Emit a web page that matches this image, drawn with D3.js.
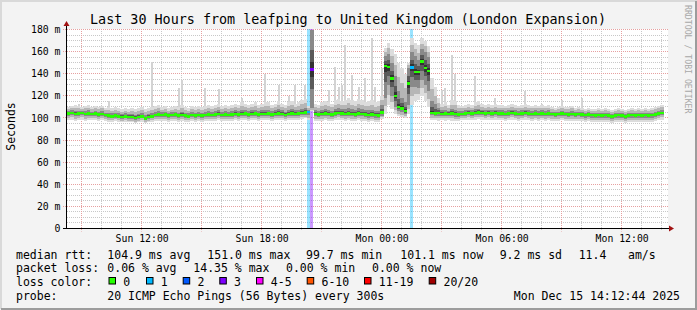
<!DOCTYPE html>
<html>
<head>
<meta charset="utf-8">
<script src="https://cdn.jsdelivr.net/npm/d3@7"></script>
<style>
body { margin: 0; background: #f3f3f3; }
svg { display: block; }
text { font-family: "DejaVu Sans Mono", monospace; fill: #000; }
</style>
</head>
<body>
<svg id="chart" width="697" height="310"></svg>
<script>
// one value per 10 minute step, starting Sun Dec 14 08:16 UTC (30 hours shown)
var median = [
  104, 104.5, 103.5, 104, 104.5, 103.5, 104, 103.5, 104, 103,
  103.5, 102.5, 102, 101.5, 102, 101.5, 101, 101.5, 101, 101,
  100, 101, 101.5, 99.7, 101, 101.5, 102.5, 103, 102.5, 103,
  102, 102.5, 103, 102, 102.5, 102, 101.5, 102.5, 102, 102.5,
  102, 102.5, 103, 102.5, 103, 103.5, 102.5, 103, 102.5, 103,
  103.5, 103, 103.5, 104, 103, 103.5, 104, 103, 103.5, 103.5,
  104, 103, 103.5, 104, 103.5, 102.5, 103.5, 104, 103.5, 104,
  104.5, 105, 105.3, 143.7, 103.5, 103, 103.5, 104, 103.5, 103,
  104, 104.5, 104, 103.5, 104, 103.5, 103, 104, 103.5, 103,
  102.5, 103, 102.5, 102, 105, 147, 146, 135.7, 120, 110,
  108.7, 106.2, 131, 145.7, 141.5, 141.4, 151, 145, 142.6, 104.5,
  104, 104.5, 103.5, 104, 103.5, 104, 103.5, 103, 103.5, 104,
  104.5, 104, 104.5, 105, 104.5, 104, 104.5, 104, 104.5, 104,
  104, 103.5, 104, 104.5, 104, 103.5, 104, 104.5, 104, 103.5,
  104, 103.5, 104, 103.5, 104, 103.5, 103, 103.5, 104, 103.5,
  103, 103.5, 103, 103.5, 103, 102.5, 103, 102.5, 102, 102.5,
  102, 102.5, 102, 101.5, 102, 102.5, 102, 101.5, 102, 102.5,
  102, 102.5, 102, 102.5, 102, 102.5, 103, 104, 104.5, null
];
var smokeLo = [
  98, 98.5, 97.5, 98, 98.5, 97.5, 98, 98, 98.5, 97.5,
  98, 97, 96.5, 96.5, 97, 96.5, 96, 96.5, 96, 96,
  95, 96, 96.5, 95, 96, 96.5, 97, 97.5, 97, 97.5,
  96.5, 97, 97.5, 96.5, 97, 96.5, 96, 97, 96.5, 97,
  96.5, 97, 97.5, 97, 97.5, 98, 97, 97.5, 97, 97.5,
  98, 97.5, 98, 98.5, 97.5, 98, 98.5, 97.5, 98, 98,
  98.5, 97.5, 98, 98.5, 98, 97, 98, 98.5, 98, 98.5,
  99, 99.5, 98, 106, 97.5, 97, 97.5, 98, 97.5, 97,
  98, 98.5, 98, 97.5, 98, 97.5, 97, 98, 97.5, 97,
  96.5, 97, 96.5, 96, 99, 104, 112, 108, 104, 102,
  101, 100, 104, 112, 115, 116, 120, 115, 110, 98,
  98, 97.5, 98, 97.5, 98, 97.5, 97, 97.5, 98, 98.5,
  98.5, 98, 98.5, 99, 98.5, 98, 98.5, 98, 98.5, 98,
  98, 97.5, 98, 98.5, 98, 97.5, 98, 98.5, 98, 97.5,
  98, 97.5, 98, 97.5, 98, 97.5, 97, 97.5, 98, 97.5,
  97, 97.5, 97, 97.5, 97, 96.5, 97, 96.5, 96, 96.5,
  96, 96.5, 96, 95.5, 96, 96.5, 96, 95.5, 96, 96.5,
  96, 96.5, 96, 96.5, 96, 96.5, 97, 98, 98.5, null
];
var smokeHi = [
  110, 111, 112, 111, 110, 111, 112, 110, 111, 110,
  111, 109, 110, 109, 110, 109, 108, 109, 108, 109,
  108, 109, 110, 108, 109, 110, 111, 112, 110, 111,
  109, 110, 111, 110, 112, 110, 109, 111, 110, 111,
  110, 111, 112, 111, 112, 113, 111, 112, 111, 112,
  113, 112, 114, 113, 112, 113, 114, 112, 113, 114,
  114, 112, 113, 115, 113, 112, 114, 115, 113, 114,
  116, 117, 111, 182, 113, 112, 114, 115, 114, 113,
  116, 117, 115, 116, 118, 116, 115, 117, 116, 114,
  115, 116, 114, 115, 120, 163, 168, 162, 158, 150,
  145, 140, 150, 172, 168, 166, 172, 170, 165, 136,
  128, 118, 113, 114, 112, 116, 115, 112, 111, 112,
  113, 112, 114, 115, 113, 112, 113, 112, 113, 112,
  112, 111, 112, 113, 112, 111, 112, 113, 112, 111,
  112, 111, 112, 111, 112, 110, 109, 110, 111, 110,
  110, 111, 109, 110, 109, 108, 109, 108, 108, 109,
  108, 109, 108, 107, 108, 109, 108, 107, 108, 109,
  108, 109, 108, 109, 108, 109, 110, 111, 112, null
];
// steps where the middle half of the pings is spread wide (quartiles)
var wideSlot = [73, 94, 95, 96, 97, 98, 99, 100, 101, 102, 103, 104, 105, 106, 107, 108];
var wideQ1 = [109, 102, 118, 130, 120, 110, 106, 105, 103.5, 112, 128, 128, 127, 134, 130, 124];
var wideQ3 = [180, 112, 156, 158, 150, 138, 124, 118, 114, 145, 160, 156, 152, 162, 160, 155];
// single outlier pings above the smoke
var spikeSlot = [3, 12, 25, 33, 34, 41, 45, 52, 59, 63, 66, 68, 71, 78, 80, 81, 82, 83, 85, 87,
                 89, 91, 92, 94, 110, 112, 113, 115, 116, 122, 128, 137, 142, 148, 154];
var spikeTop = [113, 115, 151, 127, 134, 127, 126, 118, 140, 130, 120, 130, 130, 125, 146, 128, 130, 166, 139, 128,
                136, 172, 128, 145, 124, 125, 127, 157, 140, 138, 118, 124, 113, 116, 118];
// steps with lost pings
var lossSlot = [72, 73, 103];
var lossCount = [1, 3, 1];

var yTicks = [0, 20, 40, 60, 80, 100, 120, 140, 160, 180];
var lossLabels = ["0", "1", "2", "3", "4-5", "6-10", "11-19", "20/20"];
var lossColors = ["#26ff00", "#00b8ff", "#0059ff", "#7e00ff", "#ff00ff", "#ff5500", "#ff0000", "#a00000"];
var rttLegend = ["104.9 ms avg", "151.0 ms max", "99.7 ms min", "101.1 ms now", "9.2 ms sd", "11.4", "am/s"];
var lossLegend = ["0.06 % avg", "14.35 % max", "0.00 % min", "0.00 % now"];

var W = 697, H = 310;
var plotL = 67, plotR = 667, plotT = 29.5, plotB = 228.5;
var start = Date.UTC(2025, 11, 14, 8, 16);
var end = start + 30 * 3600e3;
var stepMs = 600e3;

var x = d3.scaleUtc().domain([start, end]).range([plotL, plotR]);
var y = d3.scaleLinear().domain([0, 180]).range([plotB, plotT]).clamp(true);

function slotX(i) { return x(start + i * stepMs); }
function lossBin(n) {
  if (n <= 3) return n;
  if (n <= 5) return 4;
  if (n <= 10) return 5;
  if (n < 20) return 6;
  return 7;
}
function snap(v) { return Math.round(v - 0.5) + 0.5; }
function q1(i) { var k = wideSlot.indexOf(i); return k < 0 ? median[i] - 0.35 * (median[i] - smokeLo[i]) : wideQ1[k]; }
function q3(i) { var k = wideSlot.indexOf(i); return k < 0 ? median[i] + 0.35 * (smokeHi[i] - median[i]) : wideQ3[k]; }

var svg = d3.select("#chart");

// background + frame
svg.append("rect").attr("width", W).attr("height", H).attr("fill", "#f3f3f3");
svg.append("path").attr("d", "M1,309V1H697").attr("fill", "none").attr("stroke", "#d9d9d9").attr("stroke-width", 2);
svg.append("path").attr("d", "M1,309H696V1").attr("fill", "none").attr("stroke", "#9c9c9c").attr("stroke-width", 2);

// canvas
svg.append("rect").attr("x", plotL).attr("y", 29).attr("width", plotR - plotL + 1).attr("height", plotB - 29)
  .attr("fill", "#fff");

// grid
var grid = svg.append("g").attr("fill", "none").attr("stroke-dasharray", "1,1");
var minorY = d3.range(5, 181, 5).filter(function(v) { return v % 20 != 0; });
grid.selectAll(".gy").data(minorY).enter().append("line")
  .attr("x1", plotL).attr("x2", plotR + 1)
  .attr("y1", function(d) { return snap(y(d)); }).attr("y2", function(d) { return snap(y(d)); })
  .attr("stroke", "#c8c8c8");
var hours3 = x.ticks(d3.utcHour.every(3)).map(function(d) { return +d; });
var minorX = x.ticks(d3.utcHour.every(1)).filter(function(d) { return hours3.indexOf(+d) < 0; });
grid.selectAll(".gx").data(minorX).enter().append("line")
  .attr("x1", function(d) { return snap(x(d)); }).attr("x2", function(d) { return snap(x(d)); })
  .attr("y1", 29).attr("y2", plotB + 2)
  .attr("stroke", "#c8c8c8");
grid.selectAll(".my").data(yTicks.slice(1)).enter().append("line")
  .attr("x1", 63).attr("x2", plotR + 1)
  .attr("y1", function(d) { return snap(y(d)); }).attr("y2", function(d) { return snap(y(d)); })
  .attr("stroke", "#e6a0a0");
grid.selectAll(".mx").data(hours3).enter().append("line")
  .attr("x1", function(d) { return snap(x(d)); }).attr("x2", function(d) { return snap(x(d)); })
  .attr("y1", 29).attr("y2", plotB + 3)
  .attr("stroke", "#e6a0a0");

// loss background bars
var plot = svg.append("g");
lossSlot.forEach(function(s, k) {
  plot.append("rect")
    .attr("x", Math.round(slotX(s))).attr("width", 3)
    .attr("y", 29).attr("height", plotB - 29)
    .attr("fill", lossColors[lossBin(lossCount[k])]).attr("fill-opacity", 0.4)
    .attr("shape-rendering", "crispEdges");
});

var slots = d3.range(median.length).filter(function(i) { return median[i] != null; });

// outlier pings first so the smoke sits over their base
spikeSlot.forEach(function(s, k) {
  var cx = (slotX(s) + slotX(s + 1)) / 2;
  plot.append("rect")
    .attr("x", cx - 1).attr("width", 2)
    .attr("y", y(spikeTop[k])).attr("height", Math.max(0, y(smokeHi[s]) - y(spikeTop[k])))
    .attr("fill", "#d3d3d3").attr("shape-rendering", "crispEdges");
});

// smoke: nested bands from the outer pings to the quartiles and in toward the median
var bands = [
  { color: "#dcdcdc", lo: function(i) { return smokeLo[i]; }, hi: function(i) { return smokeHi[i]; } },
  { color: "#b6b6b6", lo: function(i) { return (smokeLo[i] + q1(i)) / 2; }, hi: function(i) { return (smokeHi[i] + q3(i)) / 2; } },
  { color: "#898989", lo: q1, hi: q3 },
  { color: "#5a5a5a", lo: function(i) { return (median[i] + q1(i)) / 2; }, hi: function(i) { return (median[i] + q3(i)) / 2; } },
  { color: "#333333", lo: function(i) { return median[i] - 0.2 * (median[i] - q1(i)); }, hi: function(i) { return median[i] + 0.2 * (q3(i) - median[i]); } }
];
bands.forEach(function(b) {
  plot.append("g").attr("fill", b.color).attr("shape-rendering", "crispEdges")
    .selectAll("rect").data(slots).enter().append("rect")
    .attr("x", function(i) { return slotX(i); })
    .attr("width", function(i) { return slotX(i + 1) - slotX(i); })
    .attr("y", function(i) { return y(b.hi(i)); })
    .attr("height", function(i) { return Math.max(0, y(b.lo(i)) - y(b.hi(i))); });
});

// median, coloured by loss
plot.append("g").attr("shape-rendering", "crispEdges")
  .selectAll("rect").data(slots).enter().append("rect")
  .attr("x", function(i) { return slotX(i); })
  .attr("width", function(i) { return slotX(i + 1) - slotX(i); })
  .attr("y", function(i) { return y(median[i]) - 1.3; })
  .attr("height", 2.6)
  .attr("fill", function(i) {
    var k = lossSlot.indexOf(i);
    return lossColors[k < 0 ? 0 : lossBin(lossCount[k])];
  });

// axes lines and arrows
svg.append("path").attr("d", "M63," + plotB + "H669").attr("stroke", "#000").attr("fill", "none");
svg.append("path").attr("d", "M66.5," + (plotB + 0.5) + "V25").attr("stroke", "#000").attr("fill", "none");
svg.append("path").attr("d", "M669,225.5L674,228.5L669,231.5Z").attr("fill", "#a11212");
svg.append("path").attr("d", "M63.5,26L66.5,21L69.5,26Z").attr("fill", "#a11212");

// tick labels
var yAxis = d3.axisLeft(y).tickValues(yTicks).tickSize(0).tickPadding(6)
  .tickFormat(function(d) { return d ? d + " m" : "0"; });
var gy = svg.append("g").attr("transform", "translate(66.5,0)").call(yAxis);
gy.select(".domain").remove();
gy.selectAll("text").style("font-family", "DejaVu Sans Mono").style("font-size", "9.8px").attr("fill", "#000");

var xAxis = d3.axisBottom(x).ticks(d3.utcHour.every(6)).tickSize(0).tickPadding(6.5)
  .tickFormat(d3.utcFormat("%a %H:%M"));
var gx = svg.append("g").attr("transform", "translate(0," + plotB + ")").call(xAxis);
gx.select(".domain").remove();
gx.selectAll("text").style("font-family", "DejaVu Sans Mono").style("font-size", "9.8px").attr("fill", "#000");

// titles
svg.append("text").attr("x", 348).attr("y", 23.5).attr("text-anchor", "middle")
  .style("font-size", "13.4px").text("Last 30 Hours from leafping to United Kingdom (London Expansion)");
svg.append("text").attr("transform", "translate(14.5,126.5) rotate(-90)").attr("text-anchor", "middle")
  .style("font-size", "11.5px").text("Seconds");
svg.append("text").attr("transform", "translate(685,5) rotate(90)")
  .style("font-size", "8.2px").style("fill", "#a8a8a8").text("RRDTOOL / TOBI OETIKER");

// legend
var rowY = [258.5, 272.3, 286.2, 300];
var lg = svg.append("g").style("font-size", "11.5px");
lg.append("text").attr("x", 16).attr("y", rowY[0]).text("median rtt:");
var rttX = [107.3, 207.3, 306, 400.3, 499.7, 578.7, 628];
rttLegend.forEach(function(t, i) { lg.append("text").attr("x", rttX[i]).attr("y", rowY[0]).text(t); });
lg.append("text").attr("x", 16).attr("y", rowY[1]).text("packet loss:");
var lossX = [107.3, 193.3, 286, 372];
lossLegend.forEach(function(t, i) { lg.append("text").attr("x", lossX[i]).attr("y", rowY[1]).text(t); });
lg.append("text").attr("x", 16).attr("y", rowY[2]).text("loss color:");
var boxX = [108.5, 146, 182.7, 219.3, 256, 306.7, 364, 428.7];
lossLabels.forEach(function(t, i) {
  lg.append("rect").attr("x", boxX[i] + 0.5).attr("y", 277.5).attr("width", 6.5).attr("height", 6.5)
    .attr("fill", lossColors[i]).attr("stroke", "#000").attr("stroke-width", 1);
  lg.append("text").attr("x", boxX[i] + 14.8).attr("y", rowY[2]).text(t);
});
lg.append("text").attr("x", 16).attr("y", rowY[3]).text("probe:");
lg.append("text").attr("x", 107.3).attr("y", rowY[3]).text("20 ICMP Echo Pings (56 Bytes) every 300s");
lg.append("text").attr("x", 680).attr("y", rowY[3]).attr("text-anchor", "end").text("Mon Dec 15 14:12:44 2025");
</script>
</body>
</html>
